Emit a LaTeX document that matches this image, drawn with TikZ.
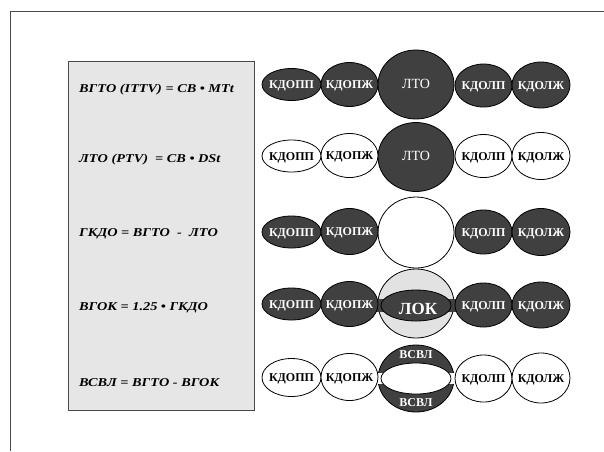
\documentclass[tikz,border=0pt]{standalone}
\usepackage{fontspec}
\setmainfont{Liberation Serif}
\usetikzlibrary{shapes.geometric}
\definecolor{darkfill}{HTML}{404040}
\definecolor{boxfill}{HTML}{E6E6E6}
\definecolor{lightring}{HTML}{E2E2E2}
\definecolor{framecol}{HTML}{4A4A4A}
\tikzset{
  ell/.style={ellipse, draw=black, line width=0.8pt, inner sep=0pt},
  dk/.style={ell, fill=darkfill},
  wt/.style={ell, fill=white},
  lbl/.style={font=\bfseries\fontsize{12}{13}\selectfont, inner sep=0pt, anchor=base},
  wlbl/.style={lbl, text=white},
  blbl/.style={lbl, text=black},
  bigl/.style={text=white, font=\fontsize{14}{15}\selectfont, inner sep=0pt, anchor=base},
  formula/.style={font=\bfseries\itshape\fontsize{12}{13}\selectfont, anchor=base west, inner sep=0pt},
}
\newcommand{\myoval}[6]{% name, style, x, y, rx, ry
  \node[#2, minimum width=#5*2pt, minimum height=#6*2pt] (#1) at (#3,#4) {};}
\newcommand{\mylbl}[4]{% name, style, oval, text
  \node[#2] (#1) at ([yshift=-4.3pt]#3.center) {#4};}
\newcommand{\fstr}[1]{\scalebox{1.19}[1]{#1}}
\begin{document}
\begin{tikzpicture}[x=1pt,y=-1pt]
\useasboundingbox (0,0) rectangle (604,451);
% outer frame
\coordinate (ftl) at (10,11);
\coordinate (ftr) at (604,11);
\coordinate (fbl) at (10,451);
\draw[framecol, line width=1pt] (ftr) -- (ftl) -- (fbl);
% formula box
\node[draw=framecol, fill=boxfill, line width=1pt, minimum width=186pt, minimum height=349pt, inner sep=0pt, anchor=north west] (box) at (68,61) {};
\node[formula] (f1) at (79,92) {\fstr{ВГТО (ITTV) = СВ • MTt}};
\node[formula] (f2) at (79,162.5) {\fstr{ЛТО (PTV)\ \ = СВ • DSt}};
\node[formula] (f3) at (79,236) {\fstr{ГКДО = ВГТО\ \ -\ \ ЛТО}};
\node[formula] (f4) at (79,310.5) {\fstr{ВГОК = 1.25 • ГКДО}};
\node[formula] (f5) at (79,386) {\fstr{ВСВЛ = ВГТО - ВГОК}};
% ---- row 1
\myoval{r1c}{dk}{416}{84.5}{38}{34.5}
\myoval{r1a}{dk}{291.5}{84.5}{29.5}{16}
\myoval{r1b}{dk}{349.5}{84.5}{28.5}{22}
\myoval{r1d}{dk}{483.5}{85.5}{28.5}{21.5}
\myoval{r1e}{dk}{541}{85}{29}{23}
\mylbl{t1a}{wlbl}{r1a}{КДОПП}
\mylbl{t1b}{wlbl}{r1b}{КДОПЖ}
\node[bigl] (t1c) at (416,88) {ЛТО};
\mylbl{t1d}{wlbl}{r1d}{КДОЛП}
\mylbl{t1e}{wlbl}{r1e}{КДОЛЖ}
% ---- row 2
\myoval{r2c}{dk}{416}{157}{38}{34.5}
\myoval{r2a}{wt}{291.5}{156}{29.5}{16}
\myoval{r2b}{wt}{349.5}{155.5}{28.5}{22}
\myoval{r2d}{wt}{483.5}{156}{28.5}{21.5}
\myoval{r2e}{wt}{541}{156}{29}{23.5}
\mylbl{t2a}{blbl}{r2a}{КДОПП}
\mylbl{t2b}{blbl}{r2b}{КДОПЖ}
\node[bigl] (t2c) at (416,160.5) {ЛТО};
\mylbl{t2d}{blbl}{r2d}{КДОЛП}
\mylbl{t2e}{blbl}{r2e}{КДОЛЖ}
% ---- row 3
\myoval{r3c}{wt}{416}{232.5}{38}{35.5}
\myoval{r3a}{dk}{291.5}{232}{29.5}{16}
\myoval{r3b}{dk}{349.5}{231.5}{28.5}{23}
\myoval{r3d}{dk}{483.5}{232}{28.5}{22}
\myoval{r3e}{dk}{541}{232}{29}{23.5}
\mylbl{t3a}{wlbl}{r3a}{КДОПП}
\mylbl{t3b}{wlbl}{r3b}{КДОПЖ}
\mylbl{t3d}{wlbl}{r3d}{КДОЛП}
\mylbl{t3e}{wlbl}{r3e}{КДОЛЖ}
% ---- row 4
\myoval{r4c}{ell, fill=lightring}{416}{303.5}{38}{34.5}
\node[fill=darkfill, minimum width=88pt, minimum height=13pt, inner sep=0pt] (r4bar) at (416,305) {};
\myoval{r4k}{dk}{416}{305.5}{35}{15.5}
\myoval{r4a}{dk}{291.5}{304}{29.5}{16}
\myoval{r4b}{dk}{349.5}{304}{28.5}{22.5}
\myoval{r4d}{dk}{483.5}{305}{28.5}{22}
\myoval{r4e}{dk}{541}{305}{29}{23}
\mylbl{t4a}{wlbl}{r4a}{КДОПП}
\mylbl{t4b}{wlbl}{r4b}{КДОПЖ}
\node[bigl, font=\bfseries\fontsize{17}{18}\selectfont] (t4k) at (418,314.5) {ЛОК};
\mylbl{t4d}{wlbl}{r4d}{КДОЛП}
\mylbl{t4e}{wlbl}{r4e}{КДОЛЖ}
% ---- row 5
\myoval{r5c}{dk}{416}{378.5}{38}{33.5}
\node[fill=white, minimum width=88pt, minimum height=11pt, inner sep=0pt] (r5bar) at (416,378.5) {};
\myoval{r5w}{wt}{416}{378.5}{35}{15.5}
\myoval{r5a}{wt}{291.5}{377.5}{29.5}{19}
\myoval{r5b}{wt}{349.5}{377}{28.5}{23.5}
\myoval{r5d}{wt}{483.5}{378.5}{28.5}{23.5}
\myoval{r5e}{wt}{541}{378}{29}{25}
\mylbl{t5a}{blbl}{r5a}{КДОПП}
\mylbl{t5b}{blbl}{r5b}{КДОПЖ}
\mylbl{t5d}{blbl}{r5d}{КДОЛП}
\mylbl{t5e}{blbl}{r5e}{КДОЛЖ}
\node[wlbl] (t5top) at (416,358) {ВСВЛ};
\node[wlbl] (t5bot) at (416,406) {ВСВЛ};
\end{tikzpicture}
\end{document}
